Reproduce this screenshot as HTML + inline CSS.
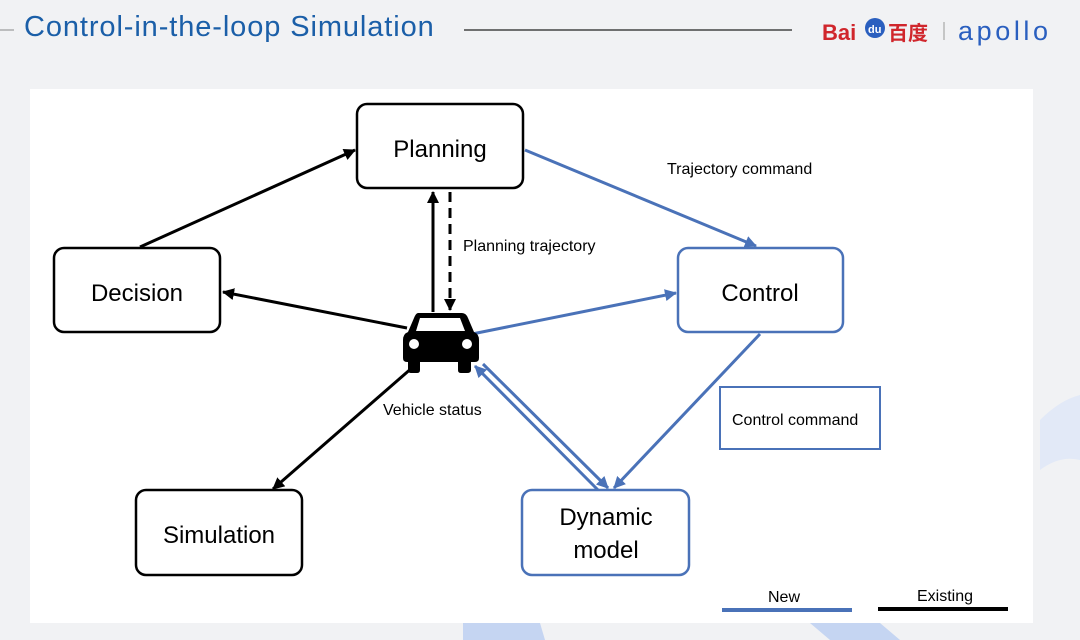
<!DOCTYPE html>
<html><head><meta charset="utf-8"><style>
body{margin:0;width:1080px;height:640px;overflow:hidden;background:#f1f2f4;font-family:"Liberation Sans",sans-serif;position:relative}
.t{position:absolute;left:24px;top:11px;font-size:29px;color:#1b5fa8;letter-spacing:0.9px}
</style></head><body>
<svg width="1080" height="640" style="position:absolute;left:0;top:0">
<defs>
<marker id="ab" markerWidth="12" markerHeight="12" refX="11" refY="6" orient="auto" markerUnits="userSpaceOnUse"><path d="M0,0 L12,6 L0,12 z" fill="#000"/></marker>
<marker id="au" markerWidth="12" markerHeight="12" refX="11" refY="6" orient="auto" markerUnits="userSpaceOnUse"><path d="M0,0 L12,6 L0,12 z" fill="#4a72b8"/></marker>
</defs>
<path d="M1040,420 Q1060,400 1080,395 L1080,460 Q1060,455 1040,470 Z" fill="#e2e9f7"/>
<path d="M463,623 L540,623 L545,640 L463,640 Z" fill="#c5d5f2"/>
<path d="M810,623 L880,623 L900,640 L830,640 Z" fill="#c5d5f2"/>
<line x1="0" y1="30" x2="14" y2="30" stroke="#888" stroke-width="1"/>
<line x1="464" y1="30" x2="792" y2="30" stroke="#444" stroke-width="1.5"/>
<rect x="30" y="89" width="1003" height="534" fill="#fff"/>
<g font-family="Liberation Sans" font-size="24" fill="#000" text-anchor="middle">
<rect x="357" y="104" width="166" height="84" rx="10" fill="#fff" stroke="#000" stroke-width="2.5"/>
<text x="440" y="157">Planning</text>
<rect x="54" y="248" width="166" height="84" rx="10" fill="#fff" stroke="#000" stroke-width="2.5"/>
<text x="137" y="301">Decision</text>
<rect x="136" y="490" width="166" height="85" rx="10" fill="#fff" stroke="#000" stroke-width="2.5"/>
<text x="219" y="543">Simulation</text>
<rect x="678" y="248" width="165" height="84" rx="10" fill="#fff" stroke="#4a72b8" stroke-width="2.5"/>
<text x="760" y="301">Control</text>
<rect x="522" y="490" width="167" height="85" rx="10" fill="#fff" stroke="#4a72b8" stroke-width="2.5"/>
<text x="606" y="525">Dynamic</text><text x="606" y="558">model</text>
</g>
<rect x="720" y="387" width="160" height="62" fill="#fff" stroke="#4a72b8" stroke-width="2"/>
<g font-family="Liberation Sans" font-size="16" fill="#000">
<text x="732" y="425">Control command</text>
<text x="667" y="174">Trajectory command</text>
<text x="463" y="251">Planning trajectory</text>
<text x="383" y="415">Vehicle status</text>
<text x="768" y="602">New</text>
<text x="917" y="601">Existing</text>
</g>
<line x1="722" y1="610" x2="852" y2="610" stroke="#4a72b8" stroke-width="4"/>
<line x1="878" y1="609" x2="1008" y2="609" stroke="#000" stroke-width="4"/>
<g stroke="#000" stroke-width="3" fill="none">
<line x1="140" y1="247" x2="355" y2="150" marker-end="url(#ab)"/>
<line x1="433" y1="312" x2="433" y2="192" marker-end="url(#ab)"/>
<line x1="450" y1="192" x2="450" y2="310" stroke-dasharray="10,6" marker-end="url(#ab)"/>
<line x1="407" y1="328" x2="223" y2="292" marker-end="url(#ab)"/>
<line x1="413" y1="367" x2="273" y2="489" marker-end="url(#ab)"/>
</g>
<g stroke="#4a72b8" stroke-width="3" fill="none">
<line x1="525" y1="150" x2="756" y2="246" marker-end="url(#au)"/>
<line x1="472" y1="334" x2="676" y2="293" marker-end="url(#au)"/>
<line x1="760" y1="334" x2="614" y2="488" marker-end="url(#au)"/>
<line x1="598" y1="490" x2="475" y2="366" marker-end="url(#au)"/>
<line x1="483" y1="364" x2="608" y2="488" marker-end="url(#au)"/>
</g>
<g fill="#000">
<path d="M418,313 L462,313 Q466,313 468,318 L474,332 Q479,334 479,340 L479,358 Q479,362 475,362 L471,362 L471,370 Q471,373 467,373 L461,373 Q458,373 458,370 L458,362 L420,362 L420,370 Q420,373 417,373 L411,373 Q408,373 408,370 L408,362 L407,362 Q403,362 403,358 L403,340 Q403,334 408,332 L414,318 Q416,313 418,313 Z"/>
<path d="M420,318 L460,318 L465,331 L416,331 Z" fill="#fff"/>
<circle cx="414" cy="344" r="5" fill="#fff"/><circle cx="467" cy="344" r="5" fill="#fff"/>
</g>
<text x="822" y="40" font-family="Liberation Sans" font-size="22" font-weight="bold" fill="#d0262c">Bai</text>
<circle cx="875" cy="28" r="10" fill="#2a5fbf"/>
<text x="868" y="33" font-family="Liberation Sans" font-size="11" font-weight="bold" fill="#fff">du</text>
<text x="888" y="40" font-family="Noto Sans CJK SC,sans-serif" font-size="20" font-weight="bold" fill="#d0262c">百度</text>
<line x1="944" y1="22" x2="944" y2="40" stroke="#999" stroke-width="1"/>
<text x="958" y="40" font-family="Liberation Sans" font-size="27" fill="#2a5fbf" textLength="90">apollo</text>
</svg>
<div class="t">Control-in-the-loop Simulation</div>
</body></html>
